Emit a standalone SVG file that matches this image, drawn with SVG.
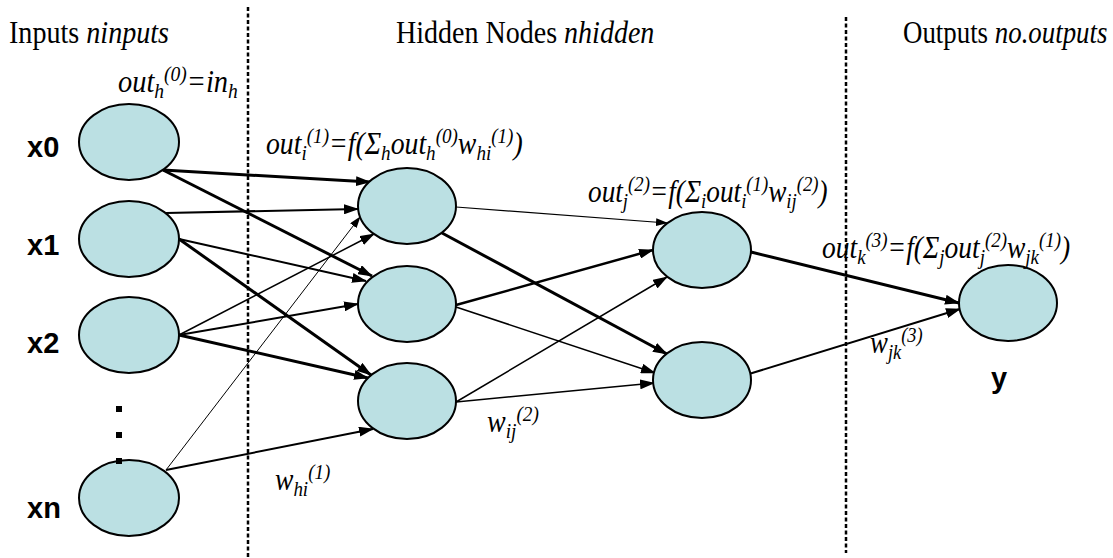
<svg xmlns="http://www.w3.org/2000/svg" width="1113" height="558" viewBox="0 0 1113 558">
<style>
.bg{fill:#ffffff}
.node{fill:#BBE0E3;stroke:#000;stroke-width:2}
.lbl{font-family:"Liberation Sans",Arial,sans-serif;font-weight:bold;font-size:29px;fill:#000}
.hdr{font-family:"Liberation Serif","Times New Roman",serif;font-size:32px;fill:#000}
.it{font-style:italic}
.f{font-family:"Liberation Serif","Times New Roman",serif;font-style:italic;font-size:32px;fill:#000}
.s{font-size:22px}
.c{stroke:#000;fill:none}
.sep{stroke:#000;stroke-width:2.5;stroke-dasharray:4 2.5;fill:none}
.dot{fill:#000}
</style>
<defs>
<marker id="ah" viewBox="0 0 15 10" refX="14" refY="5" markerWidth="15" markerHeight="10" markerUnits="userSpaceOnUse" orient="auto"><path d="M0,0 L15,5 L0,10 z" fill="#000"/></marker>
<marker id="ahs" viewBox="0 0 12 8" refX="11" refY="4" markerWidth="12" markerHeight="8" markerUnits="userSpaceOnUse" orient="auto"><path d="M0,0 L12,4 L0,8 z" fill="#000"/></marker>
</defs>
<rect class="bg" x="0" y="0" width="1113" height="558"/>

<g id="separators">
<line class="sep" x1="248" y1="7" x2="248" y2="558"/>
<line class="sep" x1="846" y1="17" x2="846" y2="553"/>
</g>

<g id="headers">
<text class="hdr" transform="translate(9,43) scale(0.87,1)" x="0" y="0" textLength="184" lengthAdjust="spacingAndGlyphs">Inputs <tspan class="it">ninputs</tspan></text>
<text class="hdr" transform="translate(396,43) scale(0.87,1)" x="0" y="0" textLength="297" lengthAdjust="spacingAndGlyphs">Hidden Nodes <tspan class="it">nhidden</tspan></text>
<text class="hdr" transform="translate(903,43) scale(0.87,1)" x="0" y="0" textLength="235" lengthAdjust="spacingAndGlyphs">Outputs <tspan class="it">no.outputs</tspan></text>
</g>

<g id="connectors">
<line class="c" stroke-width="3" x1="163" y1="170" x2="370" y2="182" marker-end="url(#ah)"/>
<line class="c" stroke-width="3" x1="163" y1="170" x2="372" y2="276" marker-end="url(#ah)"/>
<line class="c" stroke-width="2" x1="166" y1="213" x2="358" y2="209" marker-end="url(#ah)"/>
<line class="c" stroke-width="2" x1="179" y1="239" x2="366" y2="281" marker-end="url(#ah)"/>
<line class="c" stroke-width="3" x1="179" y1="239" x2="371" y2="375" marker-end="url(#ah)"/>
<line class="c" stroke-width="1.5" x1="179" y1="335" x2="374" y2="234" marker-end="url(#ah)"/>
<line class="c" stroke-width="2" x1="179" y1="335" x2="358" y2="304" marker-end="url(#ah)"/>
<line class="c" stroke-width="3" x1="179" y1="335" x2="368" y2="378" marker-end="url(#ah)"/>
<line class="c" stroke-width="1" x1="166" y1="470" x2="360" y2="217" marker-end="url(#ahs)"/>
<line class="c" stroke-width="2" x1="166" y1="470" x2="373" y2="429" marker-end="url(#ah)"/>
<line class="c" stroke-width="1.2" x1="456" y1="207" x2="667" y2="223" marker-end="url(#ahs)"/>
<line class="c" stroke-width="3" x1="442" y1="233" x2="667" y2="354" marker-end="url(#ah)"/>
<line class="c" stroke-width="2.5" x1="456" y1="305" x2="653" y2="250" marker-end="url(#ah)"/>
<line class="c" stroke-width="1.5" x1="456" y1="307" x2="655" y2="373" marker-end="url(#ah)"/>
<line class="c" stroke-width="1.5" x1="456" y1="402" x2="667" y2="277" marker-end="url(#ah)"/>
<line class="c" stroke-width="1.5" x1="456" y1="402" x2="654" y2="383" marker-end="url(#ah)"/>
<line class="c" stroke-width="3" x1="751" y1="252" x2="959" y2="303" marker-end="url(#ah)"/>
<line class="c" stroke-width="2" x1="749" y1="374" x2="960" y2="309" marker-end="url(#ah)"/>
</g>

<g id="node-x0"><ellipse class="node" cx="129" cy="142" rx="50" ry="38"/><text class="lbl" x="27" y="157">x0</text></g>
<g id="node-x1"><ellipse class="node" cx="129" cy="239" rx="50" ry="38"/><text class="lbl" x="27" y="255">x1</text></g>
<g id="node-x2"><ellipse class="node" cx="129" cy="335" rx="50" ry="38"/><text class="lbl" x="27" y="353">x2</text></g>
<g id="node-xn"><ellipse class="node" cx="129" cy="498" rx="50" ry="38"/><text class="lbl" x="27" y="518">xn</text></g>
<g id="ellipsis"><rect class="dot" x="116" y="406" width="6" height="6"/><rect class="dot" x="116" y="432" width="6" height="6"/><rect class="dot" x="116" y="458" width="6" height="6"/></g>
<g id="node-h1"><ellipse class="node" cx="407" cy="206" rx="49" ry="38"/></g>
<g id="node-h2"><ellipse class="node" cx="407" cy="304" rx="49" ry="38"/></g>
<g id="node-h3"><ellipse class="node" cx="407" cy="401" rx="49" ry="38"/></g>
<g id="node-j1"><ellipse class="node" cx="702" cy="250" rx="49" ry="38"/></g>
<g id="node-j2"><ellipse class="node" cx="702" cy="380" rx="49" ry="38"/></g>
<g id="node-y"><ellipse class="node" cx="1008" cy="303" rx="49" ry="38"/><text class="lbl" x="991" y="388" font-size="31">y</text></g>

<g id="formulas">
<text class="f" transform="translate(118,92) scale(0.85,1)" x="0" y="0" textLength="141" lengthAdjust="spacingAndGlyphs">out<tspan class="s" dy="6">h</tspan><tspan class="s" dy="-17">(0)</tspan><tspan dy="11">=in</tspan><tspan class="s" dy="6">h</tspan></text>
<text class="f" transform="translate(266,154) scale(0.85,1)" x="0" y="0" textLength="302" lengthAdjust="spacingAndGlyphs">out<tspan class="s" dy="6">i</tspan><tspan class="s" dy="-17">(1)</tspan><tspan dy="11">=f(Σ</tspan><tspan class="s" dy="6">h</tspan><tspan dy="-6">out</tspan><tspan class="s" dy="6">h</tspan><tspan class="s" dy="-17">(0)</tspan><tspan dy="11">w</tspan><tspan class="s" dy="6">hi</tspan><tspan class="s" dy="-17">(1)</tspan><tspan dy="11">)</tspan></text>
<text class="f" transform="translate(588,202) scale(0.85,1)" x="0" y="0" textLength="282" lengthAdjust="spacingAndGlyphs">out<tspan class="s" dy="6">j</tspan><tspan class="s" dy="-17">(2)</tspan><tspan dy="11">=f(Σ</tspan><tspan class="s" dy="6">i</tspan><tspan dy="-6">out</tspan><tspan class="s" dy="6">i</tspan><tspan class="s" dy="-17">(1)</tspan><tspan dy="11">w</tspan><tspan class="s" dy="6">ij</tspan><tspan class="s" dy="-17">(2)</tspan><tspan dy="11">)</tspan></text>
<text class="f" transform="translate(822,258) scale(0.85,1)" x="0" y="0" textLength="292" lengthAdjust="spacingAndGlyphs">out<tspan class="s" dy="6">k</tspan><tspan class="s" dy="-17">(3)</tspan><tspan dy="11">=f(Σ</tspan><tspan class="s" dy="6">j</tspan><tspan dy="-6">out</tspan><tspan class="s" dy="6">j</tspan><tspan class="s" dy="-17">(2)</tspan><tspan dy="11">w</tspan><tspan class="s" dy="6">jk</tspan><tspan class="s" dy="-17">(1)</tspan><tspan dy="11">)</tspan></text>
<text class="f" transform="translate(275,490) scale(0.85,1)" x="0" y="0" textLength="65" lengthAdjust="spacingAndGlyphs">w<tspan class="s" dy="6">hi</tspan><tspan class="s" dy="-17">(1)</tspan></text>
<text class="f" transform="translate(487,432) scale(0.85,1)" x="0" y="0" textLength="61" lengthAdjust="spacingAndGlyphs">w<tspan class="s" dy="6">ij</tspan><tspan class="s" dy="-17">(2)</tspan></text>
<text class="f" transform="translate(870,353) scale(0.85,1)" x="0" y="0" textLength="62" lengthAdjust="spacingAndGlyphs">w<tspan class="s" dy="6">jk</tspan><tspan class="s" dy="-17">(3)</tspan></text>
</g>
</svg>
